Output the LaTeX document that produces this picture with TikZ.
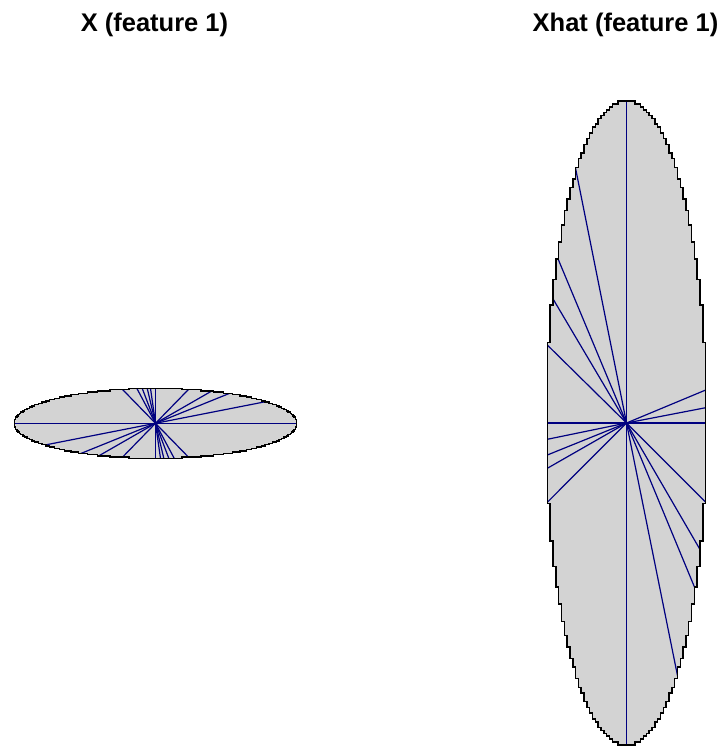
\documentclass[tikz,border=0pt]{standalone}
\usepackage{fontspec}
\setmainfont{Liberation Sans}
\usetikzlibrary{calc}
\definecolor{rgray}{RGB}{211,211,211}
\definecolor{rnavy}{RGB}{0,0,128}
% staircase outline of the left ellipse (columns)
\newcommand\leftell[1]{%
  \path[#1] (14.3,423.3)
    \foreach \i [evaluate=\i as \h using {floor(35*sqrt(max(0,1-((\i+0.5)/112-1)^2))/1.25+0.5)*1.25},
                 evaluate=\i as \xa using {14.3+\i*1.2607}] in {0,...,223}
      { -- (\xa,{423.3-\h}) -- ({\xa+1.2607},{423.3-\h}) }
    \foreach \i [evaluate=\i as \h using {floor(35*sqrt(max(0,1-((\i+0.5)/112-1)^2))/1.25+0.5)*1.25},
                 evaluate=\i as \xa using {14.3+\i*1.2607}] in {223,222,...,0}
      { -- ({\xa+1.2607},{423.3+\h}) -- (\xa,{423.3+\h}) }
    -- cycle;}
% staircase outline of the right ellipse (rows)
\newcommand\rightell[1]{%
  \path[#1] (626.5,101.2)
    \foreach \j [evaluate=\j as \w using {floor(79.2*sqrt(max(0,1-((\j+0.5)/112-1)^2))/2.8286+0.9)*2.8286},
                 evaluate=\j as \ya using {101.2+\j*2.8732}] in {0,...,223}
      { -- ({626.5+\w},\ya) -- ({626.5+\w},{\ya+2.8732}) }
    \foreach \j [evaluate=\j as \w using {floor(79.2*sqrt(max(0,1-((\j+0.5)/112-1)^2))/2.8286+0.9)*2.8286},
                 evaluate=\j as \ya using {101.2+\j*2.8732}] in {223,222,...,0}
      { -- ({626.5-\w},{\ya+2.8732}) -- ({626.5-\w},\ya) }
    -- cycle;}
\begin{document}
\begin{tikzpicture}[x=1pt,y=-1pt,
  outl/.style={draw=black, line width=1.5pt, line join=miter},
  ray/.style={draw=rnavy, line width=1.2pt},
  ttl/.style={font=\fontsize{25.5}{30}\selectfont\bfseries, anchor=base, inner sep=0pt}]
\useasboundingbox[fill=white] (0,0) rectangle (723,747);

% titles
\node[ttl] (t1) at (154.5,31) {X (feature 1)};
\node[ttl] (t2) at (625.5,31) {Xhat (feature 1)};

% left ellipse
\leftell{fill=rgray}
\coordinate (cl) at (155.5,423.3);
\begin{scope}
  \leftell{clip}
  \foreach \x/\y [count=\k] in {121.4/388.3, 189.6/458.3,
      136.8/388.3, 174.2/458.3, 142.2/388.3, 168.8/458.3,
      147.2/388.3, 163.8/458.3, 150.5/388.3, 160.5/458.3,
      155.5/388.3, 155.5/458.3, 189.6/388.3, 121.4/458.3,
      211.4/391.2, 99.6/455.4, 229.7/393.3, 81.3/453.3,
      265.5/401.7, 45.5/444.9, 14.3/423.3, 296.7/423.3}
  { \coordinate (le\k) at (\x,\y);
    \draw[ray] (cl) -- ($(cl)!1.08!(le\k)$); }
\end{scope}
\leftell{outl}

% right ellipse
\rightell{fill=rgray}
\coordinate (cr) at (626.5,423);
\begin{scope}
  \rightell{clip}
  \foreach \x/\y [count=\k] in {626.5/101.2, 626.5/744.8, 547.3/423, 705.7/423,
      575.7/169, 556.7/255.7, 550.7/295, 547.3/345,
      705.7/390, 705.7/407.7,
      547.3/439.3, 547.3/455, 547.3/468.3, 547.3/502.3,
      705.7/502.3, 700.7/550.7, 695.7/590, 676.7/671.7}
  { \coordinate (re\k) at (\x,\y);
    \draw[ray] (cr) -- ($(cr)!1.08!(re\k)$); }
\end{scope}
\rightell{outl}
\end{tikzpicture}
\end{document}
